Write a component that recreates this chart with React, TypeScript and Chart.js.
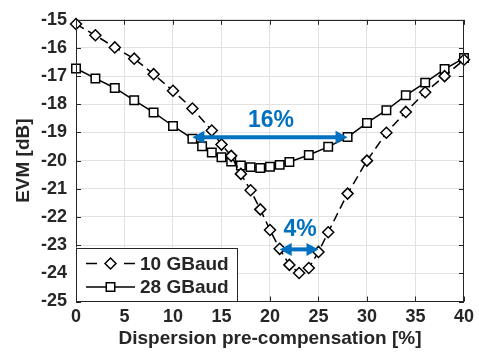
import React, { useEffect, useRef } from "react";
import { Chart, registerables } from "chart.js";

Chart.register(...registerables);

// ---- data ----
const X_TICKS = [0, 5, 10, 15, 20, 25, 30, 35, 40];
const Y_TICKS = [-25, -24, -23, -22, -21, -20, -19, -18, -17, -16, -15];

const BAUD10_X = [0, 2, 4, 6, 8, 10, 12, 14, 15, 16, 17, 18, 19, 20, 21, 22, 23, 24, 25, 26, 28, 30, 32, 34, 36, 38, 40];
const BAUD10_Y = [-15.15, -15.55, -15.98, -16.38, -16.93, -17.52, -18.15, -18.93, -19.43, -19.83, -20.47, -21.05, -21.73, -22.46, -23.13, -23.7, -23.99, -23.81, -23.24, -22.54, -21.17, -20.0, -19.01, -18.27, -17.57, -17.0, -16.42];

const BAUD28_X = [0, 2, 4, 6, 8, 10, 12, 13, 14, 15, 16, 17, 18, 19, 20, 21, 22, 24, 26, 28, 30, 32, 34, 36, 38, 40];
const BAUD28_Y = [-16.73, -17.08, -17.42, -17.86, -18.29, -18.77, -19.22, -19.49, -19.71, -19.88, -20.03, -20.17, -20.23, -20.26, -20.22, -20.15, -20.05, -19.8, -19.51, -19.16, -18.66, -18.21, -17.68, -17.23, -16.75, -16.36];

const SERIES_LABELS = ["10 GBaud", "28 GBaud"];

// annotation arrows: [xStart, xEnd, y], label, label position [x, y]
const ARROW_16 = [12, 28, -19.17];
const ARROW_16_LABEL = "16%";
const ARROW_16_LABEL_POS = [20.1, -18.58];
const ARROW_4 = [21, 25, -23.15];
const ARROW_4_LABEL = "4%";
const ARROW_4_LABEL_POS = [23.1, -22.45];

const X_TITLE = "Dispersion pre-compensation [%]";
const Y_TITLE = "EVM [dB]";

const FONT = "'Liberation Sans', Arial, Helvetica, sans-serif";
const DARK = "#262626";
const BLUE = "#0070C0";

function drawArrow(ctx: CanvasRenderingContext2D, x1: number, x2: number, yy: number) {
  const L = 12;
  const W = 6.5;
  ctx.save();
  ctx.strokeStyle = BLUE;
  ctx.fillStyle = BLUE;
  ctx.lineWidth = 4;
  ctx.setLineDash([]);
  ctx.beginPath();
  ctx.moveTo(x1 + L - 1, yy);
  ctx.lineTo(x2 - L + 1, yy);
  ctx.stroke();
  ctx.beginPath();
  ctx.moveTo(x1, yy);
  ctx.lineTo(x1 + L, yy - W);
  ctx.lineTo(x1 + L, yy + W);
  ctx.closePath();
  ctx.fill();
  ctx.beginPath();
  ctx.moveTo(x2, yy);
  ctx.lineTo(x2 - L, yy - W);
  ctx.lineTo(x2 - L, yy + W);
  ctx.closePath();
  ctx.fill();
  ctx.restore();
}

const overlayPlugin = {
  id: "overlay",
  afterDraw(chart: any) {
    const { ctx, chartArea: a, scales } = chart;
    const x = scales.x;
    const y = scales.y;
    ctx.save();
    // frame
    ctx.strokeStyle = DARK;
    ctx.lineWidth = 1;
    ctx.setLineDash([]);
    ctx.strokeRect(Math.round(a.left) + 0.5, Math.round(a.top) + 0.5, Math.round(a.right - a.left) - 1, Math.round(a.bottom - a.top) - 1);
    // inner ticks
    const T = 5;
    ctx.beginPath();
    for (const v of X_TICKS) {
      const px = Math.round(x.getPixelForValue(v)) + 0.5;
      ctx.moveTo(px, a.bottom);
      ctx.lineTo(px, a.bottom - T);
      ctx.moveTo(px, a.top);
      ctx.lineTo(px, a.top + T);
    }
    for (const v of Y_TICKS) {
      const py = Math.round(y.getPixelForValue(v)) + 0.5;
      ctx.moveTo(a.left, py);
      ctx.lineTo(a.left + T, py);
      ctx.moveTo(a.right, py);
      ctx.lineTo(a.right - T, py);
    }
    ctx.stroke();

    // legend
    const lx = a.left;
    const lw = 162;
    const lh = 54;
    const ly = a.bottom - lh;
    ctx.fillStyle = "#ffffff";
    ctx.fillRect(lx, ly, lw, lh);
    ctx.strokeStyle = DARK;
    ctx.lineWidth = 1;
    ctx.strokeRect(Math.round(lx) + 0.5, Math.round(ly) + 0.5, lw - 1, lh - 1);
    const rows = [ly + 16, ly + 39.5];
    const styles = ["rectRot", "rect"];
    const radii = [5.5, 6];
    rows.forEach((ry, i) => {
      ctx.strokeStyle = "#000";
      ctx.lineWidth = 1.5;
      ctx.beginPath();
      if (i === 0) {
        ctx.moveTo(lx + 10, ry);
        ctx.lineTo(lx + 21, ry);
        ctx.moveTo(lx + 48, ry);
        ctx.lineTo(lx + 59, ry);
      } else {
        ctx.moveTo(lx + 10, ry);
        ctx.lineTo(lx + 59, ry);
      }
      ctx.stroke();
      ctx.fillStyle = "#fff";
      ctx.strokeStyle = "#000";
      ctx.lineWidth = 1.5;
      (Chart as any).helpers?.drawPoint
        ? (Chart as any).helpers.drawPoint(ctx, { pointStyle: styles[i], radius: radii[i], borderWidth: 1.5 }, lx + 34.5, ry)
        : null;
      ctx.fillStyle = DARK;
      ctx.font = `bold 19px ${FONT}`;
      ctx.textAlign = "left";
      ctx.textBaseline = "middle";
      ctx.fillText(SERIES_LABELS[i], lx + 64, ry + 1);
    });

    // arrows
    drawArrow(ctx, x.getPixelForValue(ARROW_16[0]), x.getPixelForValue(ARROW_16[1]), y.getPixelForValue(ARROW_16[2]));
    drawArrow(ctx, x.getPixelForValue(ARROW_4[0]), x.getPixelForValue(ARROW_4[1]), y.getPixelForValue(ARROW_4[2]));
    ctx.fillStyle = BLUE;
    ctx.font = `bold 23px ${FONT}`;
    ctx.textAlign = "center";
    ctx.textBaseline = "middle";
    ctx.fillText(ARROW_16_LABEL, x.getPixelForValue(ARROW_16_LABEL_POS[0]), y.getPixelForValue(ARROW_16_LABEL_POS[1]));
    ctx.fillText(ARROW_4_LABEL, x.getPixelForValue(ARROW_4_LABEL_POS[0]), y.getPixelForValue(ARROW_4_LABEL_POS[1]));
    ctx.restore();
  },
};

function drawMarker(ctx: CanvasRenderingContext2D, style: string, r: number, cx: number, cy: number) {
  ctx.beginPath();
  if (style === "rectRot") {
    ctx.moveTo(cx - r, cy);
    ctx.lineTo(cx, cy - r);
    ctx.lineTo(cx + r, cy);
    ctx.lineTo(cx, cy + r);
  } else {
    const s = Math.SQRT1_2 * r;
    ctx.rect(cx - s, cy - s, 2 * s, 2 * s);
  }
  ctx.closePath();
  ctx.fill();
  ctx.stroke();
}

const legendMarkerPlugin = {
  id: "legendMarkers",
  afterDraw(chart: any) {
    const { ctx, chartArea: a } = chart;
    const lx = a.left;
    const ly = a.bottom - 54;
    ctx.save();
    ctx.fillStyle = "#fff";
    ctx.strokeStyle = "#000";
    ctx.lineWidth = 1.5;
    ctx.setLineDash([]);
    drawMarker(ctx, "rectRot", 5.5, lx + 34.5, ly + 16);
    drawMarker(ctx, "rect", 6, lx + 34.5, ly + 39.5);
    ctx.restore();
  },
};

export default function App() {
  const ref = useRef<HTMLCanvasElement | null>(null);
  useEffect(() => {
    if (!ref.current) return;
    const d10 = BAUD10_X.map((v, i) => ({ x: v, y: BAUD10_Y[i] }));
    const d28 = BAUD28_X.map((v, i) => ({ x: v, y: BAUD28_Y[i] }));
    const chart = new Chart(ref.current, {
      type: "line",
      data: {
        datasets: [
          {
            label: SERIES_LABELS[0],
            data: d10,
            borderColor: "#000",
            borderWidth: 1.5,
            borderDash: [9, 5],
            pointStyle: "rectRot",
            pointRadius: 5.5,
            pointBorderWidth: 1.5,
            pointBackgroundColor: "#fff",
            pointBorderColor: "#000",
            tension: 0,
            clip: false as any,
          },
          {
            label: SERIES_LABELS[1],
            data: d28,
            borderColor: "#000",
            borderWidth: 1.5,
            pointStyle: "rect",
            pointRadius: 6,
            pointBorderWidth: 1.5,
            pointBackgroundColor: "#fff",
            pointBorderColor: "#000",
            tension: 0,
            clip: false as any,
          },
        ],
      },
      options: {
        responsive: false,
        animation: false,
        devicePixelRatio: 1,
        layout: { padding: { top: 13.5, right: 10, left: 0, bottom: 0 } },
        plugins: { legend: { display: false }, tooltip: { enabled: false } },
        scales: {
          x: {
            type: "linear",
            min: 0,
            max: 40,
            afterFit: (s: any) => {
              s.height = 56.5;
            },
            afterBuildTicks: (s: any) => {
              s.ticks = X_TICKS.map((v) => ({ value: v }));
            },
            ticks: {
              color: DARK,
              font: { family: FONT, size: 18, weight: "bold" },
              padding: 5,
              maxRotation: 0,
              autoSkip: false,
            },
            grid: { color: "#e2e2e2", drawTicks: false, lineWidth: 1 },
            border: { display: true, color: DARK },
            title: {
              display: true,
              text: X_TITLE,
              color: DARK,
              font: { family: FONT, size: 19, weight: "bold" },
              padding: { top: 0, bottom: 8 },
            },
          },
          y: {
            type: "linear",
            min: -25,
            max: -15,
            afterFit: (s: any) => {
              s.width = 76;
            },
            afterBuildTicks: (s: any) => {
              s.ticks = Y_TICKS.map((v) => ({ value: v }));
            },
            ticks: {
              color: DARK,
              font: { family: FONT, size: 18, weight: "bold" },
              padding: 9,
              autoSkip: false,
            },
            grid: { color: "#e2e2e2", drawTicks: false, lineWidth: 1 },
            border: { display: true, color: DARK },
            title: {
              display: true,
              text: Y_TITLE,
              color: DARK,
              font: { family: FONT, size: 19, weight: "bold" },
              padding: { top: 12, bottom: 0 },
            },
          },
        },
      } as any,
      plugins: [overlayPlugin, legendMarkerPlugin],
    });
    return () => chart.destroy();
  }, []);
  return (
    <div style={{ position: "absolute", left: 0, top: 0, width: 479, height: 358, background: "#fff" }}>
      <canvas ref={ref} width={479} height={358} style={{ display: "block", width: 479, height: 358 }} />
    </div>
  );
}
